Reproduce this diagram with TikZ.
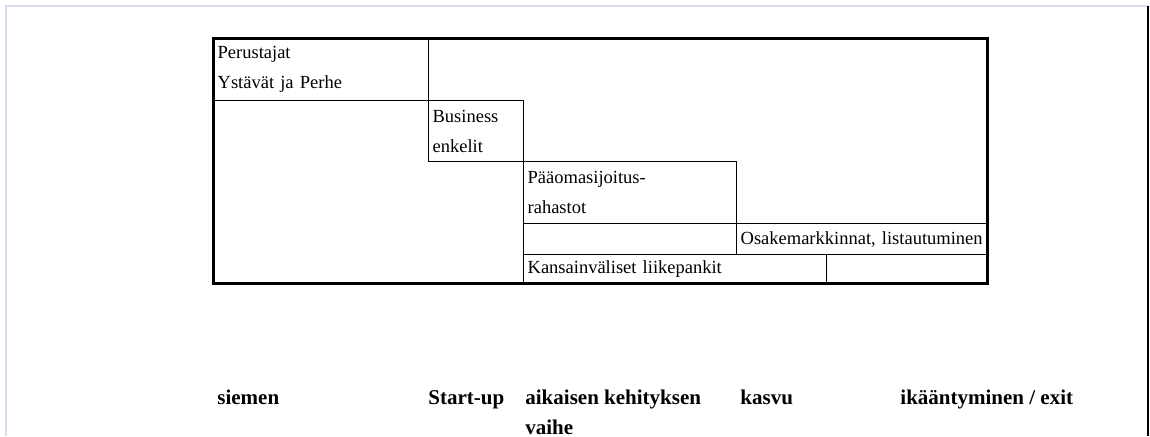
\documentclass[tikz,border=0pt]{standalone}
\usepackage{fontspec}
\setmainfont{Liberation Serif}
\definecolor{pageline}{RGB}{214,218,238}
\begin{document}
\begin{tikzpicture}[x=0.5pt, y=-0.5pt,
  cell/.style={draw, line width=0.65pt, anchor=north west, inner xsep=2pt, inner ysep=0pt,
    align=left, font=\fontsize{9.25}{15}\selectfont},
  phase/.style={anchor=base west, inner sep=0pt, align=left, font=\fontsize{10.5}{15}\selectfont\bfseries},
  frame/.style={line width=1.5pt}]
  \useasboundingbox (0,0) rectangle (1150,436);
  % page edges
  \draw[pageline, line width=0.75pt] (6,436) -- (6,6) -- (1148,6);
  \draw[line width=0.75pt] (1148,6) -- (1148,436);
  % table
  \coordinate (TL) at (213,38);
  \coordinate (BR) at (987,283);
  \node[cell, text width=103.5pt, minimum height=31pt] (Found) at (213,38) {Perustajat\\Ystävät ja Perhe};
  \node[cell, text width=43.5pt, minimum height=30.5pt] (Angel) at (428,100) {Business\\enkelit};
  \node[cell, text width=102.5pt, minimum height=31pt] (VC) at (523,161) {Pääomasijoitus-\\rahastot};
  \node[cell, minimum width=106.5pt, minimum height=15.5pt] (Gap) at (523,223) {};
  \node[cell, text width=121.5pt, minimum height=15.5pt] (Market) at (736,223) {\mbox{Osakemarkkinnat, listautuminen}};
  \node[cell, text width=147.5pt, minimum height=14.5pt] (Bank) at (523,254) {Kansainväliset liikepankit};
  \node[cell, minimum width=80.5pt, minimum height=14.5pt] (Rest) at (826,254) {};
  \draw[frame] (TL) rectangle (BR);
  % phases
  \node[phase] (Seed) at (217,404) {siemen};
  \node[phase] (Start) at (428,404) {Start-up};
  \node[phase] (Early) at (525,434) {aikaisen kehityksen\\vaihe};
  \node[phase] (Growth) at (740,404) {kasvu};
  \node[phase] (Exit) at (900,404) {ikääntyminen / exit};
\end{tikzpicture}
\end{document}
